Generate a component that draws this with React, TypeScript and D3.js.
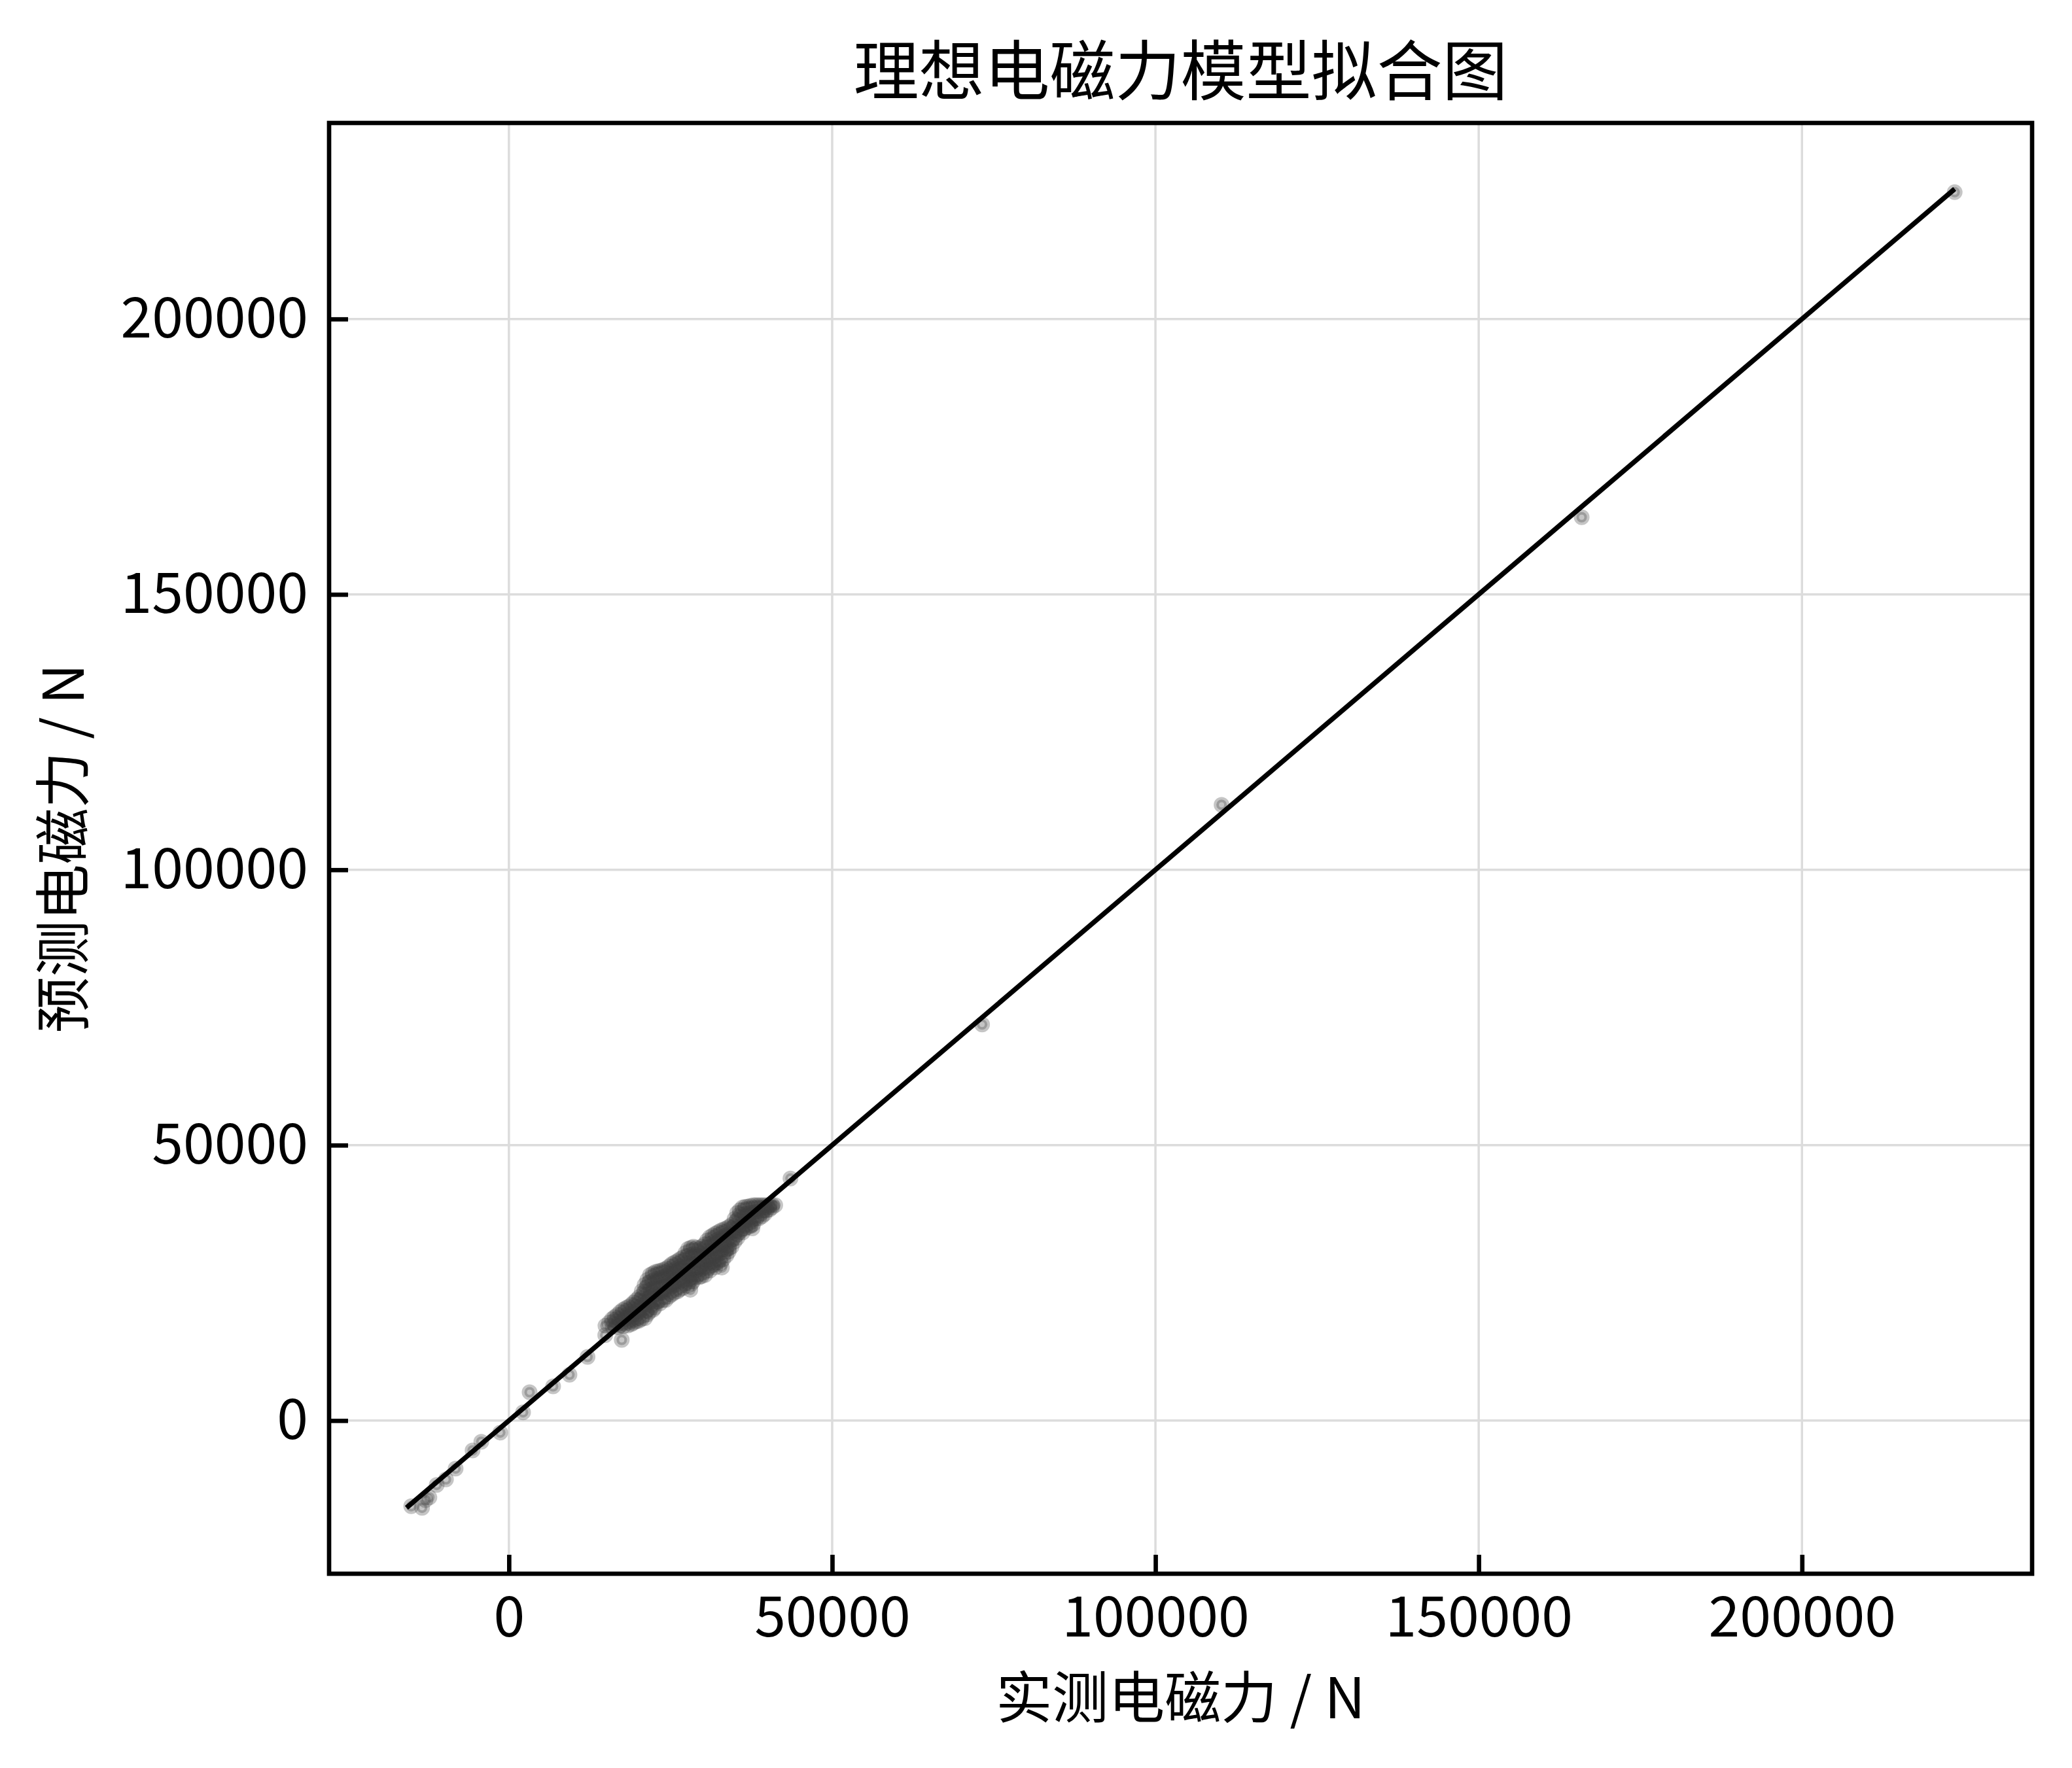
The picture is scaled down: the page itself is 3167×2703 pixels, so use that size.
import { useEffect, useRef } from 'react';
import * as d3 from 'd3';

const W = 3167;
const H = 2703;

const title = '理想电磁力模型拟合图';
const xLabel = '实测电磁力 / N';
const yLabel = '预测电磁力 / N';
const ticks = [0, 50000, 100000, 150000, 200000];

// sparse points, [measured, predicted] in N
const outliers: [number, number][] = [
  [223620, 223020],
  [165930, 164010],
  [110230, 111800],
  [73190, 71910],
  [43550, 43940],
  [12160, 11550],
  [9370, 8310],
  [6840, 6210],
  [3200, 5140],
  [2190, 1500],
  [-1340, -2180],
  [-4270, -3850],
  [-5620, -5430],
  [-8240, -8710],
  [-9730, -10690],
  [-11170, -11680],
  [-12300, -13950],
  [-12900, -14450],
  [-13430, -15840],
  [-15110, -15560],
];

// the dense band between ~14000 and ~42000 N, read column by column
const cluster: [number, number][] = [
  [14926, 17212], [14900, 15500],
  [15936, 18399], [16050, 17014],
  [16778, 19191], [16650, 18003], [16900, 16935],
  [17620, 20101], [17500, 18795], [17700, 17093], [17452, 14639],
  [18462, 20655], [18350, 19389], [18550, 18201], [18400, 17251],
  [19304, 21447], [19200, 20180], [19400, 18795], [19250, 17726],
  [20146, 22436], [20050, 21170], [20250, 19784], [20100, 18122],
  [20988, 24613], [20900, 23347], [21100, 21961], [20950, 20576], [21050, 18597],
  [21830, 26434], [21750, 25128], [21900, 23742], [21800, 22357], [21950, 20972], [21700, 19705],
  [22672, 26988], [22600, 25721], [22750, 24336], [22650, 22951], [22800, 21565], [22550, 20497],
  [23514, 27225], [23450, 25919], [23600, 24534], [23500, 23149], [23400, 21288],
  [24356, 27621], [24300, 26315], [24450, 24930], [24350, 23347], [24250, 21882],
  [25198, 28413], [25100, 27107], [25300, 25721], [25200, 24336], [25150, 22872],
  [26040, 28967], [25950, 27700], [26150, 26315], [26000, 24732], [26100, 23465],
  [26882, 29600], [26800, 28294], [26950, 26909], [26850, 25523], [26900, 24059],
  [27724, 31183], [27650, 29877], [27800, 28492], [27700, 27107], [27850, 25721], [27600, 24455],
  [28061, 23742],
  [28566, 31579], [28500, 30273], [28650, 28888], [28550, 27502], [28600, 26117], [28450, 25246],
  [29408, 31183], [29350, 29877], [29500, 28492], [29400, 27107], [29450, 26038],
  [30250, 31975], [30150, 30669], [30300, 29284], [30200, 27898], [30350, 26434],
  [31092, 33321], [31000, 32054], [31150, 30669], [31050, 29284], [31200, 28096], [31100, 27225],
  [31934, 33954], [31850, 32648], [32000, 31263], [31900, 29877], [32050, 28690], [31950, 27819],
  [32944, 27780],
  [32776, 34508], [32700, 33242], [32850, 31856], [32750, 30471], [32800, 28611],
  [33618, 34904], [33550, 33637], [33700, 32252], [33600, 31065], [33650, 29996],
  [34460, 35537], [34400, 34231], [34550, 32846], [34450, 31579],
  [35302, 37675], [35250, 36408], [35400, 35023], [35300, 33835], [35350, 33162],
  [36144, 38704], [36050, 37397], [36200, 36012], [36100, 34825], [36150, 34152],
  [36986, 38862], [36900, 37595], [37050, 36408], [36950, 35141],
  [37660, 34904],
  [37828, 39099], [37750, 37793], [37900, 36606], [37800, 35696],
  [38670, 39099], [38600, 37991], [38700, 36725],
  [39512, 39099], [39450, 38189], [39550, 37516],
  [40354, 39099], [40300, 38308],
  [41196, 39099],
];

// more points of the same band, read between the columns above
const clusterFill: [number, number][] = [
  [15500, 17800],
  [16350, 18800], [16300, 17500],
  [17200, 19700], [17150, 18400], [17250, 17300],
  [18050, 20400], [18000, 19100], [18100, 17900],
  [18900, 21000], [18850, 19800], [18950, 18500], [18900, 17500],
  [19700, 21900], [19650, 20600], [19750, 19300], [19700, 18000],
  [20550, 23500], [20500, 22200], [20600, 20900], [20550, 19500], [20500, 18400],
  [21400, 25500], [21350, 24200], [21450, 22900], [21400, 21500], [21350, 20000], [21450, 19300],
  [22250, 26700], [22200, 25400], [22300, 24000], [22250, 22600], [22200, 21200], [22300, 20100],
  [23100, 27100], [23050, 25800], [23150, 24400], [23100, 23000], [23050, 21600],
  [23950, 27400], [23900, 26100], [24000, 24700], [23950, 23300], [23900, 21900],
  [24800, 28000], [24750, 26700], [24850, 25300], [24800, 23900], [24750, 22500],
  [25600, 28700], [25550, 27400], [25650, 26000], [25600, 24600], [25550, 23200],
  [26450, 29300], [26400, 28000], [26500, 26600], [26450, 25200], [26400, 23800],
  [27300, 30400], [27250, 29100], [27350, 27700], [27300, 26300], [27250, 24900],
  [28150, 31400], [28100, 30100], [28200, 28700], [28150, 27300], [28100, 25900], [28200, 24800],
  [29000, 31400], [28950, 30100], [29050, 28700], [29000, 27300], [28950, 26000],
  [29850, 31600], [29800, 30300], [29900, 28900], [29850, 27500], [29800, 26200],
  [30650, 32700], [30600, 31400], [30700, 30000], [30650, 28600], [30600, 27200],
  [31500, 33600], [31450, 32300], [31550, 30900], [31500, 29500], [31450, 28200],
  [32350, 34200], [32300, 32900], [32400, 31500], [32350, 30100], [32300, 28700],
  [33200, 34700], [33150, 33400], [33250, 32000], [33200, 30600], [33150, 29300],
  [34050, 35200], [34000, 33900], [34100, 32500], [34050, 31300], [34000, 30700],
  [34900, 36600], [34850, 35300], [34950, 34000], [34900, 32500],
  [35700, 38200], [35650, 36900], [35750, 35500], [35700, 34200],
  [36550, 38800], [36500, 37500], [36600, 36200], [36550, 34900],
  [37400, 39000], [37350, 37700], [37450, 36400], [37400, 35400],
  [38250, 39100], [38200, 37900], [38300, 36700],
  [39100, 39100], [39050, 38100], [39150, 37100],
  [39950, 39100], [39900, 38200],
  [40750, 39100], [40700, 38700],
];

const FONT = "'Noto Sans CJK SC', 'Noto Sans', sans-serif";

export default function App() {
  const ref = useRef<SVGSVGElement>(null);

  useEffect(() => {
    if (!ref.current) return;
    const svg = d3.select(ref.current);
    svg.selectAll('*').remove();

    const left = 503, top = 188, right = 3106, bottom = 2406;
    const all = [...outliers, ...cluster, ...clusterFill];
    const lo = d3.min(all, d => Math.min(d[0], d[1])) as number;
    const hi = d3.max(all, d => Math.max(d[0], d[1])) as number;
    const pad = (hi - lo) * 0.05;

    const x = d3.scaleLinear().domain([lo - pad, hi + pad]).range([left, right]);
    const y = d3.scaleLinear().domain([lo - pad, hi + pad]).range([bottom, top]);

    svg.append('rect').attr('width', W).attr('height', H).attr('fill', '#fff');

    // grid
    const grid = svg.append('g').attr('stroke', '#dcdcdc').attr('stroke-width', 3.5);
    ticks.forEach(t => {
      grid.append('line').attr('x1', x(t)).attr('x2', x(t)).attr('y1', top).attr('y2', bottom);
      grid.append('line').attr('x1', left).attr('x2', right).attr('y1', y(t)).attr('y2', y(t));
    });

    // scatter
    svg.append('g')
      .selectAll('circle')
      .data(all)
      .join('circle')
      .attr('cx', d => x(d[0]))
      .attr('cy', d => y(d[1]))
      .attr('r', 8)
      .attr('fill', '#404040')
      .attr('fill-opacity', 0.3)
      .attr('stroke', '#404040')
      .attr('stroke-opacity', 0.3)
      .attr('stroke-width', 8);

    // ideal line y = x
    svg.append('line')
      .attr('x1', x(lo)).attr('y1', y(lo))
      .attr('x2', x(hi)).attr('y2', y(hi))
      .attr('stroke', '#000').attr('stroke-width', 7.5);

    // axes
    const xAxis = svg.append('g')
      .attr('transform', `translate(0,${bottom})`)
      .call(d3.axisBottom(x).tickValues(ticks).tickFormat(d3.format('d')).tickSizeInner(-29).tickSizeOuter(0).tickPadding(35));
    const yAxis = svg.append('g')
      .attr('transform', `translate(${left},0)`)
      .call(d3.axisLeft(y).tickValues(ticks).tickFormat(d3.format('d')).tickSizeInner(-29).tickSizeOuter(0).tickPadding(32));
    [xAxis, yAxis].forEach(a => {
      a.select('.domain').remove();
      a.selectAll('.tick line').attr('stroke', '#000').attr('stroke-width', 6.67);
      a.selectAll('.tick text').attr('font-size', 86).attr('font-family', FONT).attr('fill', '#000');
    });

    // frame
    svg.append('rect')
      .attr('x', left).attr('y', top)
      .attr('width', right - left).attr('height', bottom - top)
      .attr('fill', 'none').attr('stroke', '#000').attr('stroke-width', 6.67);

    // texts
    svg.append('text')
      .attr('x', (left + right) / 2).attr('y', 145)
      .attr('text-anchor', 'middle')
      .attr('font-size', 100).attr('font-family', FONT)
      .text(title);

    svg.append('text')
      .attr('x', (left + right) / 2).attr('y', 2627)
      .attr('text-anchor', 'middle')
      .attr('font-size', 86).attr('font-family', FONT)
      .text(xLabel);

    svg.append('text')
      .attr('transform', `translate(128,${(top + bottom) / 2}) rotate(-90)`)
      .attr('text-anchor', 'middle')
      .attr('font-size', 86).attr('font-family', FONT)
      .text(yLabel);
  }, []);

  return (
    <div style={{ position: 'absolute', left: 0, top: 0 }}>
      <svg ref={ref} width={W} height={H} />
    </div>
  );
}
